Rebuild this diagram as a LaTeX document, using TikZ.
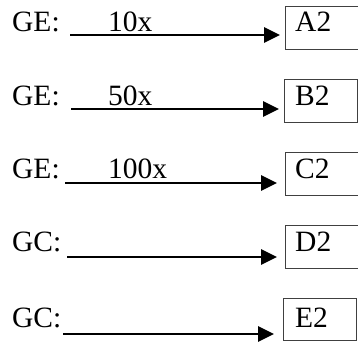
\documentclass[tikz,border=0pt]{standalone}
\usepackage{fontspec}
\setmainfont{Liberation Serif}
\usetikzlibrary{arrows.meta}
\tikzset{
  txt/.style={anchor=base west, inner sep=0pt, font=\fontsize{29.5}{31}\selectfont},
  boxnode/.style={draw=black!75, line width=1pt, anchor=north west, minimum width=73pt, inner sep=0pt},
  arr/.style={line width=2.8pt, -{Triangle[length=16pt, width=15pt]}, shorten >=5pt}
}
\begin{document}
\begin{tikzpicture}[x=1pt, y=-1pt]
\useasboundingbox (0,0) rectangle (358,342);
% row A
\node[boxnode, minimum height=43pt] (bA) at (285,6) {};
\node[txt] (gA) at (12,32) {GE:};
\node[txt] (nA) at (108,32) {10x};
\node[txt] (lA) at (295,32) {A2};
\coordinate (sA) at (70,35);
\draw[arr] (sA) -- (sA -| bA.west);
% row B
\node[boxnode, minimum height=43pt] (bB) at (284,79) {};
\node[txt] (gB) at (12,105) {GE:};
\node[txt] (nB) at (108,105) {50x};
\node[txt] (lB) at (295,105) {B2};
\coordinate (sB) at (71,109);
\draw[arr] (sB) -- (sB -| bB.west);
% row C
\node[boxnode, minimum height=43pt] (bC) at (285,152) {};
\node[txt] (gC) at (12,178) {GE:};
\node[txt] (nC) at (108,178) {100x};
\node[txt] (lC) at (295,178) {C2};
\coordinate (sC) at (65,183);
\draw[arr, shorten >=8pt] (sC) -- (sC -| bC.west);
% row D
\node[boxnode, minimum height=43pt] (bD) at (285,225) {};
\node[txt] (gD) at (12,251) {GC:};
\node[txt] (lD) at (295,251) {D2};
\coordinate (sD) at (67,257);
\draw[arr, shorten >=8pt] (sD) -- (sD -| bD.west);
% row E
\node[boxnode, minimum height=42pt] (bE) at (283,298) {};
\node[txt] (gE) at (12,327) {GC:};
\node[txt] (lE) at (295,327) {E2};
\coordinate (sE) at (63,334);
\draw[arr, shorten >=9pt] (sE) -- (sE -| bE.west);
\end{tikzpicture}
\end{document}
